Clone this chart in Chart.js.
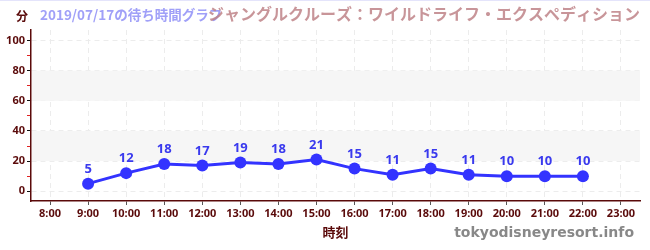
<!DOCTYPE html>
<html>
<head>
<meta charset="utf-8">
<script src="https://cdn.jsdelivr.net/npm/chart.js@4/dist/chart.umd.min.js"></script>
<style>
  html, body { margin: 0; padding: 0; background: #fff; }
  #wrap { width: 650px; height: 250px; position: relative; border-top: 1px solid #e4e4fb; box-sizing: border-box; }
</style>
</head>
<body>
<div id="wrap"><canvas id="chart" width="650" height="249"></canvas></div>
<script>
var hours = ["8:00", "9:00", "10:00", "11:00", "12:00", "13:00", "14:00", "15:00",
             "16:00", "17:00", "18:00", "19:00", "20:00", "21:00", "22:00", "23:00"];
var waitTimes = [null, 5, 12, 18, 17, 19, 18, 21, 15, 11, 15, 11, 10, 10, 10, null];
var yTicks = [0, 10, 20, 30, 40, 50, 60, 70, 80, 90, 100];
var bands = [[20, 40], [60, 80]];

var rideName = "ジャングルクルーズ：ワイルドライフ・エクスペディション";
var dateTitle = "2019/07/17の待ち時間グラフ";
var xTitle = "時刻";
var yTitle = "分";
var siteName = "tokyodisneyresort.info";

var darkRed = "#5a0a0a";
var blue = "#3333ff";

// grey bands behind the line
var bandPlugin = {
  id: "bands",
  beforeDatasetsDraw: function (chart) {
    var c = chart.ctx, a = chart.chartArea, y = chart.scales.y;
    c.save();
    c.fillStyle = "#f6f6f6";
    bands.forEach(function (b) {
      var top = y.getPixelForValue(b[1]);
      var bot = y.getPixelForValue(b[0]);
      c.fillRect(a.left + 1, top, a.right - a.left - 1, bot - top);
    });
    c.restore();
  }
};

// value labels, titles, watermark
var textPlugin = {
  id: "texts",
  afterDatasetsDraw: function (chart) {
    var c = chart.ctx;
    var meta = chart.getDatasetMeta(0);
    c.save();
    c.font = "bold 13px 'Noto Sans', sans-serif";
    c.fillStyle = "#3a3aee";
    c.textAlign = "center";
    c.textBaseline = "bottom";
    meta.data.forEach(function (pt, i) {
      if (waitTimes[i] == null) return;
      c.fillText(String(waitTimes[i]), pt.x, pt.y - 8);
    });
    c.restore();
  },
  afterDraw: function (chart) {
    var c = chart.ctx, a = chart.chartArea;
    c.save();
    c.textBaseline = "middle";

    c.font = "bold 12px 'Noto Sans CJK JP', sans-serif";
    c.fillStyle = darkRed;
    c.textAlign = "left";
    c.fillText(yTitle, 16, 15);

    c.font = "bold 13.5px 'Noto Sans CJK JP', sans-serif";
    c.fillStyle = "#a0a0f8";
    c.fillText(dateTitle, 40, 14);

    c.font = "bold 16px 'Noto Sans CJK JP', sans-serif";
    c.fillStyle = "rgba(190, 130, 135, 0.85)";
    c.textAlign = "right";
    c.fillText(rideName, a.right, 13);

    c.font = "bold 13px 'Noto Sans CJK JP', sans-serif";
    c.fillStyle = darkRed;
    c.textAlign = "center";
    c.fillText(xTitle, (a.left + a.right) / 2, 231);

    var size = 18;
    c.font = "bold " + size + "px 'DejaVu Sans', sans-serif";
    size = size * 180 / c.measureText(siteName).width;
    c.font = "bold " + size + "px 'DejaVu Sans', sans-serif";
    c.fillStyle = "#888888";
    c.textAlign = "right";
    c.fillText(siteName, 634, 232);
    c.restore();
  }
};

new Chart(document.getElementById("chart"), {
  type: "line",
  data: {
    labels: hours,
    datasets: [{
      data: waitTimes,
      borderColor: blue,
      backgroundColor: blue,
      borderWidth: 3,
      pointRadius: 6,
      pointBackgroundColor: blue,
      pointBorderWidth: 0,
      spanGaps: false,
      tension: 0
    }]
  },
  options: {
    responsive: false,
    animation: false,
    layout: { padding: { top: 29, right: 10, bottom: 0, left: 0 } },
    plugins: {
      legend: { display: false },
      tooltip: { enabled: false }
    },
    scales: {
      x: {
        offset: true,
        afterFit: function (s) { s.height = 49; },
        grid: {
          offset: false,
          color: "#ececec",
          tickColor: "#555",
          tickLength: 4
        },
        border: { color: darkRed, width: 1.5, dash: [5, 4] },
        ticks: {
          color: darkRed,
          font: { family: "'Noto Sans', sans-serif", weight: "bold", size: 11 },
          padding: 2,
          maxRotation: 0,
          autoSkip: false
        }
      },
      y: {
        min: -6.5,
        max: 107,
        afterFit: function (s) { s.width = 31; },
        afterBuildTicks: function (s) {
          s.ticks = yTicks.map(function (v) { return { value: v }; });
        },
        grid: {
          color: function (ctx) {
            return ctx.tick && ctx.tick.value % 20 === 0 ? "#ececec" : "rgba(0,0,0,0)";
          },
          tickColor: function (ctx) {
            return ctx.tick && ctx.tick.value % 20 === 0 ? "#111" : "#e02020";
          },
          tickLength: 4
        },
        border: { color: darkRed, width: 1.5, dash: [5, 4] },
        ticks: {
          color: darkRed,
          font: { family: "'Noto Sans', sans-serif", weight: "bold", size: 11 },
          padding: 2,
          callback: function (v) { return v % 20 === 0 ? v : ""; }
        }
      }
    }
  },
  plugins: [bandPlugin, textPlugin]
});
</script>
</body>
</html>
